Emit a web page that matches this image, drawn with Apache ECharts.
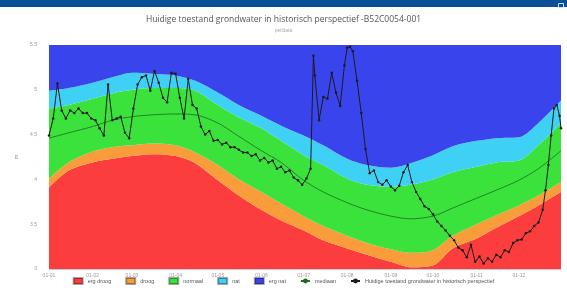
<!DOCTYPE html>
<html>
<head>
<meta charset="utf-8">
<script src="https://cdn.jsdelivr.net/npm/echarts@6/dist/echarts.min.js"></script>
<style>
  html, body { margin: 0; padding: 0; background: #fff; }
  #chart { width: 567px; height: 298px; }
</style>
</head>
<body>
<div id="chart"></div>
<script>
// dag van het jaar voor de banden (1e en 15e van elke maand)
var bandDays = [0, 14, 31, 45, 59, 73, 90, 104, 120, 134, 151, 165, 181, 195, 212, 226, 243, 257, 273, 287, 304, 318, 334, 348, 364]
// grenzen tussen de klassen (m)
var grensDroog = [3.91, 4.10, 4.19, 4.23, 4.26, 4.28, 4.26, 4.18, 3.99, 3.83, 3.66, 3.54, 3.43, 3.32, 3.23, 3.16, 3.08, 3.02, 3.04, 3.23, 3.34, 3.46, 3.59, 3.71, 3.86]
var grensNormaal = [4.01, 4.19, 4.31, 4.36, 4.38, 4.40, 4.38, 4.30, 4.16, 4.01, 3.86, 3.73, 3.59, 3.48, 3.37, 3.29, 3.22, 3.18, 3.21, 3.37, 3.50, 3.60, 3.71, 3.82, 3.97]
var grensNat = [4.79, 4.83, 4.90, 4.96, 5.00, 5.02, 5.02, 4.99, 4.83, 4.70, 4.57, 4.43, 4.27, 4.16, 4.01, 3.94, 3.92, 3.94, 4.00, 4.08, 4.14, 4.19, 4.21, 4.38, 4.63]
var grensErgNat = [4.99, 5.02, 5.08, 5.14, 5.19, 5.18, 5.16, 5.10, 4.97, 4.84, 4.71, 4.60, 4.49, 4.38, 4.23, 4.16, 4.13, 4.18, 4.27, 4.37, 4.43, 4.46, 4.47, 4.63, 4.88]
var mediaan = [4.46, 4.52, 4.59, 4.66, 4.70, 4.72, 4.73, 4.72, 4.63, 4.49, 4.32, 4.19, 3.99, 3.86, 3.74, 3.66, 3.59, 3.56, 3.59, 3.68, 3.79, 3.88, 3.99, 4.12, 4.32]
var bovengrens = 5.5

// huidige metingen
var meetDays = [0, 3, 6, 9, 12, 15, 18, 21, 24, 27, 30, 33, 36, 39, 42, 45, 48, 51, 54, 57,
  60, 63, 66, 69, 72, 75, 78, 81, 84, 87, 90, 93, 96, 99, 102, 105, 108, 111, 114, 117,
  120, 123, 126, 129, 132, 135, 138, 141, 144, 147, 150, 153, 156, 159, 162, 165, 168, 171, 174, 177,
  180, 183, 186, 188, 189, 192, 195, 198, 201, 204, 207, 210, 212, 214, 216, 219, 222, 225, 228, 231,
  234, 237, 240, 243, 246, 249, 252, 255, 258, 261, 264, 267, 270, 273, 276, 279, 282, 285, 288, 291,
  294, 297, 300, 303, 306, 309, 312, 315, 318, 321, 324, 327, 330, 333, 336, 339, 342, 345, 348, 351,
  353, 355, 357, 359, 361, 363, 364]
var meetwaarden = [4.49, 4.68, 5.07, 4.77, 4.68, 4.77, 4.74, 4.79, 4.74, 4.74, 4.68, 4.66, 4.57, 4.49, 5.06, 4.66, 4.68, 4.70, 4.52, 4.46,
  4.79, 5.06, 5.14, 5.16, 4.99, 5.21, 5.08, 4.91, 4.86, 5.19, 5.18, 4.91, 4.68, 5.12, 4.83, 4.79, 4.59, 4.50, 4.54, 4.43,
  4.44, 4.39, 4.41, 4.36, 4.36, 4.33, 4.30, 4.30, 4.26, 4.28, 4.21, 4.24, 4.19, 4.21, 4.12, 4.14, 4.08, 4.10, 4.02, 3.99,
  3.94, 4.01, 4.12, 5.38, 5.16, 4.66, 4.92, 4.90, 5.19, 4.97, 4.82, 5.27, 5.47, 5.48, 5.43, 5.10, 4.74, 4.34, 4.07, 4.10,
  3.97, 3.94, 3.99, 3.92, 3.88, 3.93, 4.08, 4.16, 3.97, 3.86, 3.78, 3.70, 3.67, 3.61, 3.53, 3.48, 3.43, 3.37, 3.32, 3.24,
  3.21, 3.13, 3.27, 3.08, 3.14, 3.06, 3.12, 3.08, 3.16, 3.13, 3.21, 3.19, 3.29, 3.32, 3.33, 3.40, 3.42, 3.48, 3.52, 3.66,
  3.88, 4.16, 4.49, 4.79, 4.83, 4.71, 4.57]

var DAG = 86400000
var start = new Date(2023, 0, 1).getTime()

function band (onder, boven) {
  return bandDays.map(function (d, i) {
    var laag = onder ? onder[i] : 0
    var hoog = boven ? boven[i] : bovengrens
    return [start + d * DAG, +(hoog - laag).toFixed(2)]
  })
}

var klassen = [
  { name: 'erg droog', color: '#fb3d3d', data: band(null, grensDroog) },
  { name: 'droog', color: '#f99d3a', data: band(grensDroog, grensNormaal) },
  { name: 'normaal', color: '#3be23b', data: band(grensNormaal, grensNat) },
  { name: 'nat', color: '#3fd0f5', data: band(grensNat, grensErgNat) },
  { name: 'erg nat', color: '#3a44ec', data: band(grensErgNat, null) }
]

var series = []
var legendData = []
klassen.forEach(function (k) {
  legendData.push({ name: k.name, icon: 'rect' })
  series.push({
    name: k.name,
    type: 'line',
    stack: 'klassen',
    smooth: 0.3,
    symbol: 'none',
    lineStyle: { width: 0 },
    itemStyle: { color: k.color, borderColor: 'rgba(0,0,0,0.35)', borderWidth: 1 },
    areaStyle: { color: k.color, opacity: 1 },
    data: k.data
  })
})
legendData.push('mediaan')
legendData.push('Huidige toestand grondwater in historisch perspectief')
series.push({
  name: 'mediaan',
  type: 'line',
  smooth: 0.3,
  symbol: 'none',
  lineStyle: { color: '#1d6a22', width: 0.8 },
  itemStyle: { color: '#1d6a22' },
  data: bandDays.map(function (d, i) { return [start + d * DAG, mediaan[i]] })
})
series.push({
  name: 'Huidige toestand grondwater in historisch perspectief',
  type: 'line',
  symbol: 'circle',
  symbolSize: 2.5,
  showAllSymbol: true,
  lineStyle: { color: '#1b1b1b', width: 1 },
  itemStyle: { color: '#1b1b1b' },
  data: meetDays.map(function (d, i) { return [start + d * DAG, meetwaarden[i]] })
})

var dom = echarts.init(document.getElementById('chart'))
dom.setOption({
  animation: false,
  title: {
    text: 'Huidige toestand grondwater in historisch perspectief -B52C0054-001',
    subtext: 'peildata',
    left: 'center',
    top: 10,
    itemGap: 4,
    textStyle: { fontSize: 8.5, fontWeight: 'normal', color: '#555', fontFamily: 'Open Sans' },
    subtextStyle: { fontSize: 5, color: '#aaa' }
  },
  graphic: [
    { type: 'rect', left: 0, top: 0, shape: { width: 567, height: 7 }, style: { fill: '#0b4f96' } },
    { type: 'rect', left: 556, top: 1, shape: { width: 5, height: 4 }, style: { fill: 'none', stroke: '#cfe0f3', lineWidth: 1 } }
  ],
  legend: {
    bottom: 8,
    left: 'center',
    itemWidth: 9,
    itemHeight: 6,
    itemGap: 14,
    textStyle: { fontSize: 5.5, color: '#555' },
    data: legendData
  },
  grid: { left: 49, right: 6, top: 45, bottom: 29 },
  xAxis: {
    type: 'time',
    min: start,
    max: start + 364 * DAG,
    splitNumber: 12,
    maxInterval: 31 * DAG,
    axisLine: { lineStyle: { color: '#ccc' } },
    axisTick: { show: false },
    splitLine: { show: false },
    axisLabel: { formatter: '{dd}-{MM}', fontSize: 5, color: '#999', margin: 4, hideOverlap: false }
  },
  yAxis: {
    type: 'value',
    name: 'm',
    nameLocation: 'middle',
    nameGap: 30,
    nameTextStyle: { fontSize: 6, color: '#999' },
    min: 3,
    max: bovengrens,
    interval: 0.5,
    axisLine: { show: false },
    axisTick: { show: false },
    splitLine: { show: false },
    axisLabel: { fontSize: 5, color: '#999', margin: 12 }
  },
  series: series
})
</script>
</body>
</html>
